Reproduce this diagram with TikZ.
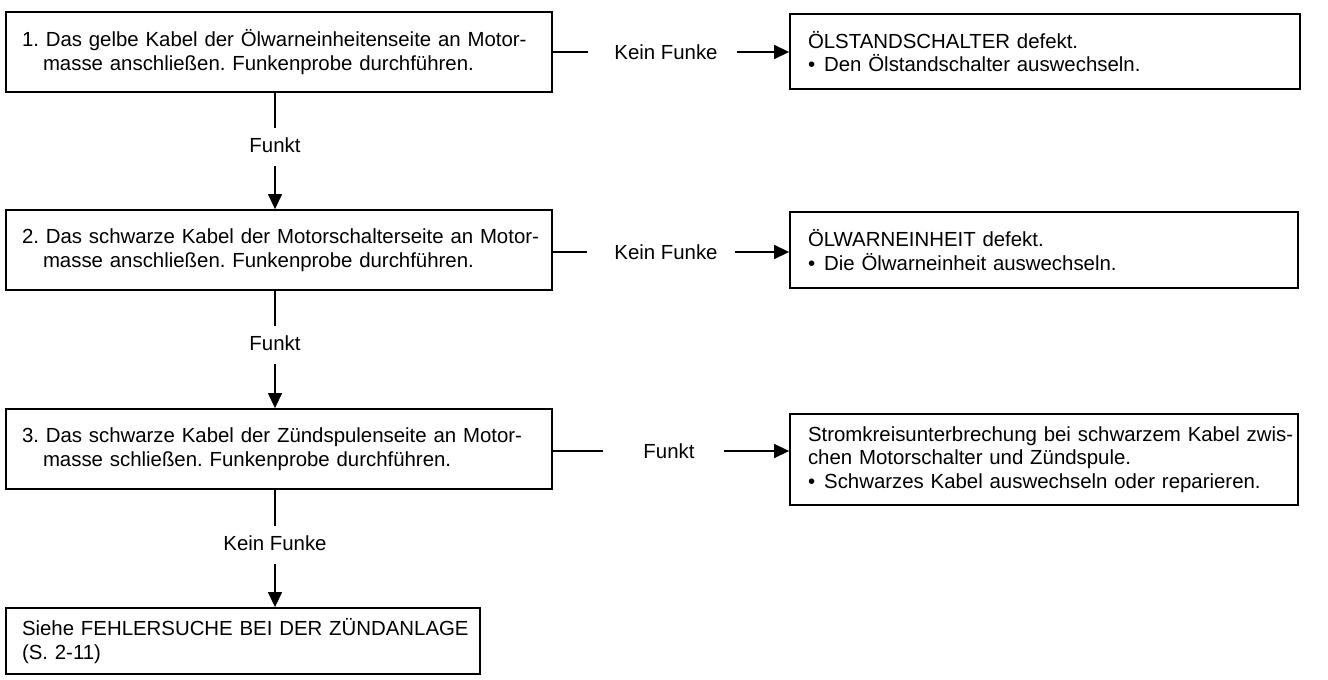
\documentclass[tikz,border=0pt]{standalone}
\usepackage{fontspec}
\setmainfont{Liberation Sans}
\usetikzlibrary{arrows.meta}
\frenchspacing
\begin{document}
\begin{tikzpicture}[x=1pt,y=1pt,
  every node/.style={font=\fontsize{20.4}{23.5}\selectfont},
  box/.style={draw, line width=1.8pt, align=left, inner xsep=16pt, inner ysep=0pt},
  rbox/.style={box, inner xsep=18pt},
  lab/.style={inner sep=0pt},
  conn/.style={line width=1.4pt},
  arr/.style={conn, -{Triangle[length=15pt,width=14pt]}}]
\useasboundingbox (0,0) rectangle (1328,680);
% left column
\node[box, minimum width=546pt, minimum height=80pt, text width=514pt] (b1) at (279,628)
  {\mbox{1. Das gelbe Kabel der Ölwarneinheitenseite an Motor-}\\\mbox{\hspace*{21pt}masse anschließen. Funkenprobe durchführen.}};
\node[box, minimum width=546pt, minimum height=80pt, text width=514pt] (b2) at (279,430)
  {\mbox{2. Das schwarze Kabel der Motorschalterseite an Motor-}\\\mbox{\hspace*{21pt}masse anschließen. Funkenprobe durchführen.}};
\node[box, minimum width=546pt, minimum height=80pt, text width=514pt] (b3) at (279,231)
  {\mbox{3. Das schwarze Kabel der Zündspulenseite an Motor-}\\\mbox{\hspace*{21pt}masse schließen. Funkenprobe durchführen.}};
\node[box, minimum width=474pt, minimum height=66pt, text width=442pt] (b4) at (243,39)
  {\mbox{Siehe FEHLERSUCHE BEI DER ZÜNDANLAGE}\\\mbox{(S. 2-11)}};
% right column
\node[rbox, minimum width=510pt, minimum height=75pt, text width=474pt] (r1) at (1045,628.5)
  {\mbox{ÖLSTANDSCHALTER defekt.}\\\mbox{•\hspace{9pt}Den Ölstandschalter auswechseln.}};
\node[rbox, minimum width=508pt, minimum height=76pt, text width=472pt] (r2) at (1044,430)
  {\mbox{ÖLWARNEINHEIT defekt.}\\\mbox{•\hspace{9pt}Die Ölwarneinheit auswechseln.}};
\node[rbox, minimum width=508pt, minimum height=91pt, text width=472pt] (r3) at (1044,220.5)
  {\mbox{Stromkreisunterbrechung bei schwarzem Kabel zwis-}\\\mbox{chen Motorschalter und Zündspule.}\\\mbox{•\hspace{9pt}Schwarzes Kabel auswechseln oder reparieren.}};
% labels
\node[lab] (k1) at (666,628) {Kein Funke};
\node[lab] (k2) at (666,428) {Kein Funke};
\node[lab] (k3) at (669,229) {Funkt};
\node[lab] (f1) at (275,535) {Funkt};
\node[lab] (f2) at (275,337) {Funkt};
\node[lab] (f3) at (275,137) {Kein Funke};
% horizontal connectors
\draw[conn] (b1.east |- k1) -- ([xshift=-26pt]k1.west);
\draw[arr] ([xshift=19pt]k1.east) -- (r1.west |- k1);
\draw[conn] (b2.east |- k2) -- ([xshift=-27pt]k2.west);
\draw[arr] ([xshift=17pt]k2.east) -- (r2.west |- k2);
\draw[conn] (b3.east |- k3) -- ([xshift=-40pt]k3.west);
\draw[arr] ([xshift=29pt]k3.east) -- (r3.west |- k3);
% vertical connectors
\draw[conn] (f1 |- b1.south) -- ([yshift=9pt]f1.north);
\draw[arr] ([yshift=-13pt]f1.south) -- (f1 |- b2.north);
\draw[conn] (f2 |- b2.south) -- ([yshift=9pt]f2.north);
\draw[arr] ([yshift=-13pt]f2.south) -- (f2 |- b3.north);
\draw[conn] (f3 |- b3.south) -- ([yshift=9pt]f3.north);
\draw[arr] ([yshift=-13pt]f3.south) -- (f3 |- b4.north);
\end{tikzpicture}
\end{document}
